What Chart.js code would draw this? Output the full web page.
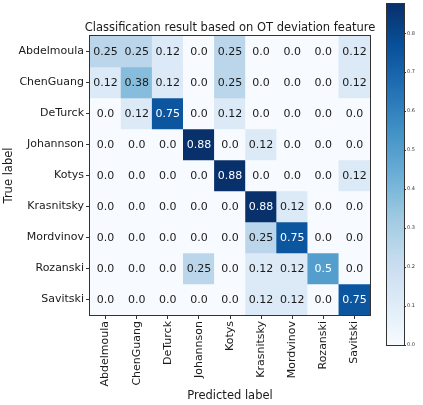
<!DOCTYPE html>
<html>
<head>
<meta charset="utf-8">
<script src="https://cdn.jsdelivr.net/npm/chart.js@4"></script>
<style>
  html, body { margin: 0; padding: 0; background: #fff; }
  #wrap { position: relative; width: 423px; height: 405px; }
  #wrap canvas { position: absolute; top: 0; }
</style>
</head>
<body>
<div id="wrap">
  <canvas id="matrix" width="423" height="405" style="left:0"></canvas>
  <canvas id="cbar" width="43" height="405" style="left:380px"></canvas>
</div>
<script>
const names = ["Abdelmoula", "ChenGuang", "DeTurck", "Johannson", "Kotys",
  "Krasnitsky", "Mordvinov", "Rozanski", "Savitski"];
// rows = true label, columns = predicted label
const rowAbdelmoula = [0.25, 0.25, 0.12, 0, 0.25, 0, 0, 0, 0.12];
const rowChenGuang  = [0.12, 0.38, 0.12, 0, 0.25, 0, 0, 0, 0.12];
const rowDeTurck    = [0, 0.12, 0.75, 0, 0.12, 0, 0, 0, 0];
const rowJohannson  = [0, 0, 0, 0.88, 0, 0.12, 0, 0, 0];
const rowKotys      = [0, 0, 0, 0, 0.88, 0, 0, 0, 0.12];
const rowKrasnitsky = [0, 0, 0, 0, 0, 0.88, 0.12, 0, 0];
const rowMordvinov  = [0, 0, 0, 0, 0, 0.25, 0.75, 0, 0];
const rowRozanski   = [0, 0, 0, 0.25, 0, 0.12, 0.12, 0.5, 0];
const rowSavitski   = [0, 0, 0, 0, 0, 0.12, 0.12, 0, 0.75];
const rows = [rowAbdelmoula, rowChenGuang, rowDeTurck, rowJohannson, rowKotys,
  rowKrasnitsky, rowMordvinov, rowRozanski, rowSavitski];
const vmax = 0.875;
const cbarTicks = [0, 0.1, 0.2, 0.3, 0.4, 0.5, 0.6, 0.7, 0.8];

const FONT = "'DejaVu Sans', sans-serif";
const blues = ["#f7fbff", "#deebf7", "#c6dbef", "#9ecae1", "#6baed6",
  "#4292c6", "#2171b5", "#08519c", "#08306b"];

function hex(c) {
  return [1, 3, 5].map((i) => parseInt(c.slice(i, i + 2), 16));
}

function bluesAt(t) {
  t = Math.max(0, Math.min(1, t));
  const pos = t * (blues.length - 1);
  const i = Math.min(blues.length - 2, Math.floor(pos));
  const f = pos - i;
  const a = hex(blues[i]), b = hex(blues[i + 1]);
  const m = a.map((v, k) => Math.round(v + (b[k] - v) * f));
  return `rgb(${m[0]},${m[1]},${m[2]})`;
}

function fmt(v) {
  return v === 0 ? "0.0" : String(v);
}

const datasets = rows.map((vals, r) => ({
  data: vals.map(() => [r - 0.5, r + 0.5]),
  backgroundColor: vals.map((v) => bluesAt(v / vmax)),
  borderWidth: 0,
  barPercentage: 1,
  categoryPercentage: 1,
  grouped: false,
}));

const frame = {
  id: "frame",
  afterDraw(chart) {
    const { ctx, chartArea: a } = chart;
    ctx.save();
    ctx.strokeStyle = "#333";
    ctx.lineWidth = 1;
    ctx.strokeRect(Math.round(a.left) - 0.5, Math.round(a.top) - 0.5,
      Math.round(a.right - a.left) + 1, Math.round(a.bottom - a.top) + 1);
    ctx.restore();
  },
};

const cellText = {
  id: "cellText",
  afterDatasetsDraw(chart) {
    const { ctx, scales } = chart;
    ctx.save();
    ctx.font = `11px ${FONT}`;
    ctx.textAlign = "center";
    ctx.textBaseline = "middle";
    rows.forEach((vals, r) => {
      vals.forEach((v, c) => {
        ctx.fillStyle = v > vmax / 2 ? "#fff" : "#1a1a1a";
        ctx.fillText(fmt(v), scales.x.getPixelForValue(c), scales.y.getPixelForValue(r) + 1);
      });
    });
    // title
    const a = chart.chartArea;
    ctx.fillStyle = "#1a1a1a";
    ctx.font = `11.5px ${FONT}`;
    ctx.textBaseline = "alphabetic";
    ctx.fillText("Classification result based on OT deviation feature", (a.left + a.right) / 2, a.top - 5);
    ctx.restore();
  },
};

new Chart(document.getElementById("matrix"), {
  type: "bar",
  data: { labels: names, datasets },
  options: {
    responsive: false,
    animation: false,
    layout: { padding: { left: 0, top: 36, right: 53, bottom: 0 } },
    plugins: { legend: { display: false }, tooltip: { enabled: false } },
    scales: {
      x: {
        offset: true,
        grid: { offset: false, drawOnChartArea: false, drawTicks: true, tickLength: 4, color: "#333" },
        border: { display: false },
        ticks: {
          color: "#1a1a1a", font: { family: FONT, size: 11 },
          minRotation: 90, maxRotation: 90, padding: 2, autoSkip: false,
        },
        title: {
          display: true, text: "Predicted label", color: "#1a1a1a",
          font: { family: FONT, size: 11.5 }, padding: { top: 0, bottom: 2 },
        },
        afterFit: (s) => { s.height = 90; },
      },
      y: {
        type: "linear",
        min: -0.5,
        max: 8.5,
        reverse: true,
        afterBuildTicks: (s) => { s.ticks = names.map((_, i) => ({ value: i })); },
        grid: { drawOnChartArea: false, drawTicks: true, tickLength: 4, color: "#333" },
        border: { display: false },
        ticks: {
          color: "#1a1a1a", font: { family: FONT, size: 11 }, padding: 2,
          callback: (v) => names[v],
        },
        title: {
          display: true, text: "True label", color: "#1a1a1a",
          font: { family: FONT, size: 11.5 }, padding: { top: 2, bottom: 0 },
        },
        afterFit: (s) => { s.width = 90; },
      },
    },
  },
  plugins: [cellText, frame],
});

new Chart(document.getElementById("cbar"), {
  type: "bar",
  data: {
    labels: [""],
    datasets: [{
      data: [[0, vmax]],
      borderWidth: 0,
      barPercentage: 1,
      categoryPercentage: 1,
      backgroundColor: (ctx) => {
        const a = ctx.chart.chartArea;
        if (!a) return blues[0];
        const g = ctx.chart.ctx.createLinearGradient(0, a.bottom, 0, a.top);
        blues.forEach((c, i) => g.addColorStop(i / (blues.length - 1), c));
        return g;
      },
    }],
  },
  options: {
    responsive: false,
    animation: false,
    layout: { padding: { left: 7, top: 4, right: 0, bottom: 60 } },
    plugins: { legend: { display: false }, tooltip: { enabled: false } },
    scales: {
      x: { display: false },
      y: {
        position: "right",
        min: 0,
        max: vmax,
        afterBuildTicks: (s) => { s.ticks = cbarTicks.map((v) => ({ value: v })); },
        grid: { drawOnChartArea: false, drawTicks: true, tickLength: 2, color: "#333" },
        border: { display: false },
        ticks: {
          color: "#333", font: { family: FONT, size: 5 }, padding: 1,
          callback: (v) => v.toFixed(1),
        },
        afterFit: (s) => { s.width = 19; },
      },
    },
  },
  plugins: [frame],
});
</script>
</body>
</html>
